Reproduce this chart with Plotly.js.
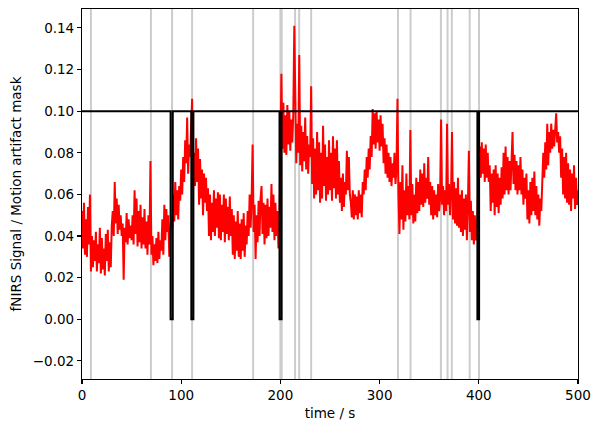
<!DOCTYPE html>
<html>
<head>
<meta charset="utf-8">
<script src="https://cdn.plot.ly/plotly-3.0.1.min.js"></script>
<style>html,body{margin:0;padding:0;background:#fff;}</style>
</head>
<body>
<div id="chart" style="width:601px;height:432px;"></div>
<script>
// fNIRS signal sampled every 1 s from t = 0 to 500 s
const signalStart = 0;
const signalStep = 1;
const signal = [
  0.052, 0.034, 0.056, 0.031, 0.048, 0.030, 0.054, 0.036, 0.060, 0.023,
  0.040, 0.025, 0.038, 0.028, 0.042, 0.023, 0.036, 0.027, 0.044, 0.022,
  0.039, 0.024, 0.034, 0.021, 0.041, 0.028, 0.043, 0.023, 0.037, 0.025,
  0.045, 0.052, 0.040, 0.066, 0.046, 0.058, 0.041, 0.055, 0.043, 0.050,
  0.040, 0.046, 0.019, 0.044, 0.037, 0.051, 0.036, 0.048, 0.039, 0.045,
  0.038, 0.050, 0.036, 0.062, 0.041, 0.058, 0.035, 0.052, 0.037, 0.055,
  0.034, 0.049, 0.036, 0.053, 0.034, 0.047, 0.031, 0.050, 0.036, 0.076,
  0.031, 0.040, 0.026, 0.036, 0.028, 0.039, 0.027, 0.042, 0.029, 0.038,
  0.033, 0.048, 0.031, 0.055, 0.038, 0.053, 0.042, 0.050, 0.030, 0.045,
  0.050, 0.044, 0.060, 0.047, 0.066, 0.050, 0.062, 0.048, 0.064, 0.057,
  0.072, 0.060, 0.078, 0.066, 0.086, 0.075, 0.097, 0.070, 0.084, 0.078,
  0.090, 0.106, 0.062, 0.080, 0.064, 0.087, 0.066, 0.082, 0.055, 0.077,
  0.058, 0.072, 0.050, 0.070, 0.056, 0.068, 0.052, 0.063, 0.040, 0.060,
  0.038, 0.056, 0.042, 0.062, 0.040, 0.058, 0.044, 0.061, 0.039, 0.060,
  0.038, 0.055, 0.042, 0.060, 0.037, 0.058, 0.041, 0.054, 0.038, 0.059,
  0.040, 0.053, 0.031, 0.050, 0.029, 0.047, 0.033, 0.052, 0.030, 0.046,
  0.029, 0.048, 0.033, 0.051, 0.030, 0.045, 0.036, 0.052, 0.040, 0.060,
  0.044, 0.058, 0.084, 0.042, 0.055, 0.029, 0.050, 0.037, 0.057, 0.040,
  0.058, 0.064, 0.041, 0.056, 0.036, 0.055, 0.039, 0.058, 0.040, 0.054,
  0.044, 0.065, 0.042, 0.060, 0.038, 0.056, 0.040, 0.052, 0.034, 0.045,
  0.080, 0.118, 0.082, 0.104, 0.080, 0.098, 0.079, 0.103, 0.084, 0.100,
  0.081, 0.096, 0.085, 0.099, 0.141, 0.092, 0.075, 0.094, 0.080, 0.127,
  0.074, 0.093, 0.071, 0.090, 0.076, 0.097, 0.072, 0.088, 0.070, 0.084,
  0.078, 0.112, 0.065, 0.087, 0.058, 0.082, 0.060, 0.090, 0.062, 0.085,
  0.056, 0.080, 0.058, 0.093, 0.064, 0.084, 0.057, 0.078, 0.060, 0.086,
  0.062, 0.080, 0.057, 0.088, 0.063, 0.082, 0.058, 0.086, 0.060, 0.076,
  0.056, 0.068, 0.052, 0.070, 0.054, 0.066, 0.060, 0.081, 0.062, 0.078,
  0.060, 0.056, 0.049, 0.062, 0.048, 0.060, 0.050, 0.059, 0.048, 0.062,
  0.051, 0.060, 0.049, 0.066, 0.060, 0.072, 0.062, 0.078, 0.068, 0.082,
  0.072, 0.088, 0.078, 0.101, 0.084, 0.099, 0.082, 0.100, 0.085, 0.096,
  0.081, 0.098, 0.083, 0.094, 0.075, 0.087, 0.070, 0.084, 0.068, 0.080,
  0.066, 0.078, 0.064, 0.075, 0.068, 0.080, 0.065, 0.072, 0.106, 0.060,
  0.041, 0.066, 0.048, 0.074, 0.043, 0.062, 0.047, 0.070, 0.050, 0.064,
  0.048, 0.091, 0.050, 0.065, 0.046, 0.060, 0.047, 0.068, 0.051, 0.066,
  0.052, 0.072, 0.055, 0.070, 0.054, 0.075, 0.056, 0.068, 0.058, 0.078,
  0.055, 0.066, 0.050, 0.064, 0.048, 0.062, 0.050, 0.060, 0.049, 0.065,
  0.052, 0.058, 0.096, 0.055, 0.064, 0.050, 0.062, 0.052, 0.094, 0.055,
  0.065, 0.050, 0.060, 0.090, 0.048, 0.066, 0.046, 0.063, 0.045, 0.068,
  0.044, 0.060, 0.042, 0.062, 0.040, 0.058, 0.043, 0.060, 0.038, 0.055,
  0.081, 0.042, 0.057, 0.038, 0.052, 0.036, 0.050, 0.038, 0.040, 0.058,
  0.070, 0.083, 0.068, 0.085, 0.070, 0.082, 0.066, 0.084, 0.068, 0.080,
  0.066, 0.074, 0.052, 0.070, 0.056, 0.072, 0.050, 0.074, 0.054, 0.070,
  0.051, 0.068, 0.055, 0.073, 0.058, 0.080, 0.060, 0.083, 0.062, 0.078,
  0.060, 0.076, 0.062, 0.080, 0.090, 0.065, 0.079, 0.062, 0.076, 0.060,
  0.074, 0.062, 0.078, 0.060, 0.072, 0.055, 0.068, 0.058, 0.070, 0.048,
  0.062, 0.046, 0.066, 0.050, 0.068, 0.052, 0.071, 0.050, 0.064, 0.048,
  0.060, 0.045, 0.058, 0.052, 0.066, 0.080, 0.068, 0.085, 0.072, 0.094,
  0.074, 0.090, 0.080, 0.094, 0.082, 0.091, 0.083, 0.095, 0.099, 0.085,
  0.090, 0.080, 0.088, 0.068, 0.082, 0.060, 0.078, 0.058, 0.080, 0.056,
  0.075, 0.055, 0.072, 0.052, 0.070, 0.058, 0.074, 0.053, 0.068, 0.055,
  0.062
];

// Motion artifact mask (step function, value held until next time)
const maskTimes  = [0, 89.3, 91.5, 110.2, 112.3, 199.1, 201.2, 398.6, 400.3, 500];
const maskValues = [0.1, 0, 0.1, 0, 0.1, 0, 0.1, 0, 0.1, 0.1];

// Artifact event times (grey vertical lines)
const artifactTimes = [9, 69.5, 90.8, 111, 172.5, 200, 201.3, 214.8, 218.9, 231,
                       318.5, 331.2, 361.8, 368.5, 372.8, 390.8, 400.2];

const xTicks = [0, 100, 200, 300, 400, 500];
const yTicks = [-0.02, 0, 0.02, 0.04, 0.06, 0.08, 0.10, 0.12, 0.14];

const traces = [
  {
    type: 'scatter', mode: 'lines',
    x0: signalStart, dx: signalStep, y: signal,
    line: {color: '#ff0000', width: 2},
    hoverinfo: 'skip', showlegend: false
  },
  {
    type: 'scatter', mode: 'lines',
    x: maskTimes, y: maskValues,
    line: {color: '#000000', width: 2, shape: 'hv'},
    hoverinfo: 'skip', showlegend: false
  }
];

const shapes = artifactTimes.map(t => ({
  type: 'line', xref: 'x', yref: 'paper', x0: t, x1: t, y0: 0, y1: 1,
  line: {color: '#cccccc', width: 2}, layer: 'below'
}));

const axisCommon = {
  showline: true, mirror: true, linecolor: '#000', linewidth: 1.1,
  ticks: 'outside', ticklen: 4, tickwidth: 1.1, tickcolor: '#000',
  showgrid: false, zeroline: false,
  tickfont: {family: 'DejaVu Sans', size: 13.5, color: '#000'}
};

const layout = {
  width: 601, height: 432,
  margin: {l: 82, r: 23, t: 9, b: 53},
  paper_bgcolor: '#fff', plot_bgcolor: '#fff',
  font: {family: 'DejaVu Sans', size: 13.5, color: '#000'},
  showlegend: false,
  shapes: shapes,
  xaxis: Object.assign({}, axisCommon, {
    range: [0, 500], tickvals: xTicks, ticktext: xTicks.map(String),
    title: {text: 'time / s', font: {family: 'DejaVu Sans', size: 13.5, color: '#000'}, standoff: 6}
  }),
  yaxis: Object.assign({}, axisCommon, {
    range: [-0.0287, 0.1491], tickvals: yTicks, tickformat: '.2f',
    title: {text: 'fNIRS Signal / Motion artifact mask', font: {family: 'DejaVu Sans', size: 13.5, color: '#000'}, standoff: 8}
  })
};

Plotly.newPlot('chart', traces, layout, {staticPlot: true, displayModeBar: false});
</script>
</body>
</html>
